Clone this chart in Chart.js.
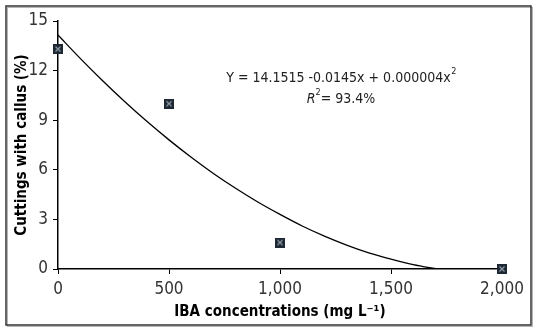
<!DOCTYPE html>
<html>
<head>
<meta charset="utf-8">
<script src="https://cdn.jsdelivr.net/npm/chart.js@4.4.1/dist/chart.umd.min.js"></script>
<style>
  html, body { margin: 0; padding: 0; background: #fff; }
  #wrap { width: 538px; height: 332px; }
</style>
</head>
<body>
<div id="wrap"><canvas id="chart" width="538" height="332"></canvas></div>
<script>
(() => {
  // observed means
  const doses = [0, 500, 1000, 2000];
  const callus = [13.3, 10.0, 1.6, 0];

  // fitted curve
  const curveX = [0, 100, 200, 300, 400, 500, 600, 700, 800, 900, 1000, 1100, 1200, 1300, 1400, 1500, 1600, 1710];
  const curveY = [14.15, 12.74, 11.4, 10.13, 8.93, 7.81, 6.76, 5.78, 4.88, 4.05, 3.3, 2.6, 1.99, 1.45, 0.98, 0.6, 0.27, 0];

  const yTicks = [0, 3, 6, 9, 12, 15];
  const xTicks = [0, 500, 1000, 1500, 2000];

  const eqLine1 = "Y = 14.1515 -0.0145x + 0.000004x";
  const eqLine2 = "= 93.4%";

  const FONT = "'DejaVu Sans Condensed', 'Liberation Sans Narrow', sans-serif";

  // marker: dark square with a light cross
  const marker = document.createElement("canvas");
  marker.width = 10;
  marker.height = 10;
  const m = marker.getContext("2d");
  m.fillStyle = "#1d2834";
  m.fillRect(0, 0, 10, 10);
  m.strokeStyle = "#8f9aa4";
  m.lineWidth = 1.2;
  m.beginPath();
  m.moveTo(2.5, 2.5); m.lineTo(7.5, 7.5);
  m.moveTo(7.5, 2.5); m.lineTo(2.5, 7.5);
  m.stroke();

  const framePlugin = {
    id: "frame",
    beforeDraw(chart) {
      const c = chart.ctx;
      c.save();
      c.strokeStyle = "#b5b5b5";
      c.lineWidth = 1;
      c.strokeRect(7.5, 7.5, 525, 319);
      c.strokeStyle = "#333";
      c.lineWidth = 1.5;
      c.strokeRect(6, 6, 525, 319);
      c.restore();
    }
  };

  const equationPlugin = {
    id: "equation",
    afterDraw(chart) {
      const c = chart.ctx;
      c.save();
      c.fillStyle = "#222";
      c.textBaseline = "middle";
      c.textAlign = "left";
      const big = "14px " + FONT;
      const small = "9px " + FONT;
      const cx = 341;

      c.font = big;
      const w1 = c.measureText(eqLine1).width;
      c.font = small;
      const s1 = c.measureText("2").width;
      let x = cx - (w1 + s1) / 2;
      c.font = big;
      c.fillText(eqLine1, x, 78);
      c.font = small;
      c.fillText("2", x + w1 + 0.5, 72);

      c.font = "italic 14px " + FONT;
      const wr = c.measureText("R").width;
      c.font = small;
      const s2 = c.measureText("2").width;
      c.font = big;
      const w2 = c.measureText(eqLine2).width;
      x = cx - (wr + s2 + w2) / 2;
      c.font = "italic 14px " + FONT;
      c.fillText("R", x, 99);
      c.font = small;
      c.fillText("2", x + wr, 93);
      c.font = big;
      c.fillText(eqLine2, x + wr + s2, 99);
      c.restore();
    }
  };

  new Chart(document.getElementById("chart"), {
    type: "scatter",
    data: {
      datasets: [
        {
          label: "fit",
          data: curveX.map((x, i) => ({ x, y: curveY[i] })),
          showLine: true,
          borderColor: "#000",
          borderWidth: 1.3,
          pointRadius: 0,
          cubicInterpolationMode: "monotone",
          order: 2
        },
        {
          label: "observed",
          data: doses.map((x, i) => ({ x, y: callus[i] })),
          pointStyle: marker,
          pointRadius: 5,
          clip: false,
          order: 1
        }
      ]
    },
    options: {
      responsive: false,
      animation: false,
      devicePixelRatio: 1,
      layout: { padding: { top: 21, right: 36, left: 0, bottom: 11 } },
      plugins: {
        legend: { display: false },
        tooltip: { enabled: false }
      },
      scales: {
        x: {
          type: "linear",
          min: 0,
          max: 2000,
          afterBuildTicks: (s) => { s.ticks = xTicks.map(v => ({ value: v })); },
          afterFit: (s) => { s.height = 52; },
          ticks: {
            color: "#333",
            font: { family: FONT, size: 17 },
            padding: 5,
            maxRotation: 0,
            callback: (v) => v.toLocaleString("en-US")
          },
          grid: { drawOnChartArea: false, drawTicks: true, tickLength: 5, color: "#000", lineWidth: 1 },
          border: { color: "#000", width: 1.5 },
          title: {
            display: true,
            text: "IBA concentrations (mg L\u207B\u00B9)",
            color: "#000",
            font: { family: FONT, size: 15, weight: "bold" },
            padding: { top: 2, bottom: 0 }
          }
        },
        y: {
          min: 0,
          max: 15,
          afterBuildTicks: (s) => { s.ticks = yTicks.map(v => ({ value: v })); },
          afterFit: (s) => { s.width = 58; },
          ticks: {
            color: "#333",
            font: { family: FONT, size: 17 },
            padding: 5
          },
          grid: { drawOnChartArea: false, drawTicks: true, tickLength: 5, color: "#000", lineWidth: 1 },
          border: { color: "#000", width: 1.5 },
          title: {
            display: true,
            text: "Cuttings with callus (%)",
            color: "#000",
            font: { family: FONT, size: 15, weight: "bold" },
            padding: { top: 13, bottom: 0 }
          }
        }
      }
    },
    plugins: [framePlugin, equationPlugin]
  });
})();
</script>
</body>
</html>
